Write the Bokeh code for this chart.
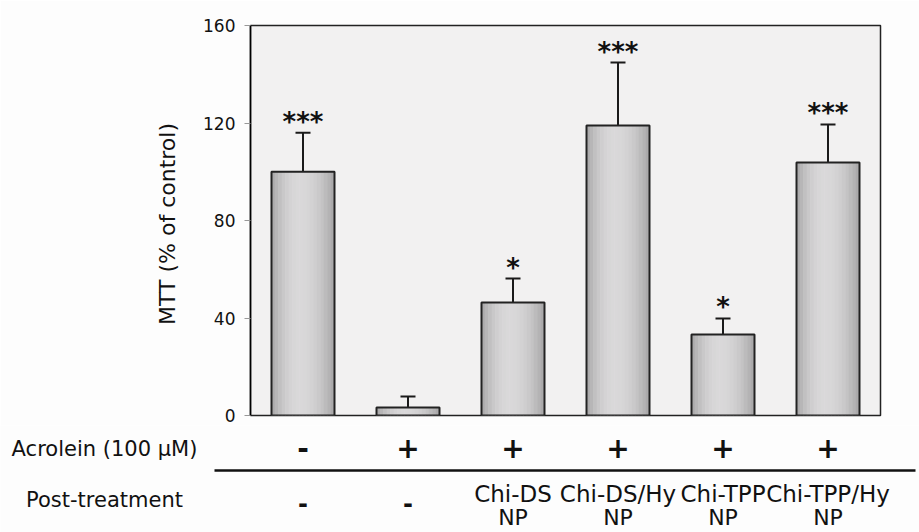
from bokeh.plotting import figure
from bokeh.models import ColumnDataSource, Range1d, FixedTicker, Whisker, TeeHead
from bokeh.transform import dodge
from bokeh.core.properties import value
from bokeh.embed import file_html
from bokeh.resources import INLINE

# ---- data ----
categories = ["Control", "Acrolein", "Chi-DS NP", "Chi-DS/Hy NP", "Chi-TPP NP", "Chi-TPP/Hy NP"]
mtt = [100, 3.3, 46.4, 119, 33.2, 103.8]
mtt_err = [16, 4.5, 9.8, 25.8, 6.6, 15.6]
stars = ["***", "", "*", "***", "*", "***"]
acrolein = ["-", "+", "+", "+", "+", "+"]
post_sign = ["-", "-", "", "", "", ""]
post_line1 = ["", "", "Chi-DS", "Chi-DS/Hy", "Chi-TPP", "Chi-TPP/Hy"]
post_line2 = ["", "", "NP", "NP", "NP", "NP"]
row_titles = ["Acrolein (100 µM)", "Post-treatment"]
y_ticks = [0, 40, 80, 120, 160]

xs = list(range(1, len(categories) + 1))
src = ColumnDataSource(dict(
    x=xs, top=mtt, upper=[m + e for m, e in zip(mtt, mtt_err)], stars=stars,
    acro=acrolein, psign=post_sign, p1=post_line1, p2=post_line2,
))

FONT = "DejaVu Sans"
W, H = 919, 532
L, R, T, B = 250, 880, 25, 415      # chart frame edges in page pixels
H1 = 425                            # height of the chart figure
BAR_W = 0.6
PX_X = (R - L) / 6.0                # px per category

# ---- main chart ----
p = figure(width=W, height=H1, output_backend="svg", toolbar_location=None,
           x_range=Range1d(0.5, 6.5), y_range=Range1d(0, 160),
           min_border_left=L, min_border_right=W - R, min_border_top=T, min_border_bottom=H1 - B)
p.xaxis.visible = False
p.grid.visible = False
p.background_fill_color = "#f2f1f1"
p.border_fill_color = "#fdfdfd"
p.outline_line_color = "#222222"
p.outline_line_width = 1.5

ya = p.yaxis[0]
ya.ticker = FixedTicker(ticks=y_ticks)
ya.minor_tick_line_color = None
ya.major_tick_in = 0
ya.major_tick_out = 6
ya.major_tick_line_color = "#999999"
ya.axis_line_color = "black"
ya.axis_line_width = 1.5
ya.major_label_text_font = FONT
ya.major_label_text_font_size = "17px"
ya.major_label_text_color = "#111111"
ya.major_label_standoff = 9
ya.axis_label = "MTT  (% of control)"
ya.axis_label_text_font = FONT
ya.axis_label_text_font_size = "22px"
ya.axis_label_text_font_style = "normal"
ya.axis_label_text_color = "#111111"
ya.axis_label_standoff = 20

# gradient-like bar fill with vertical strips
N = 18
for i in range(N):
    t = (i + 0.5) / N
    u = (0.45 - t) / 0.45 if t < 0.45 else (t - 0.45) / 0.55
    b = int(218 - 52 * u * u)
    col = "#%02x%02x%02x" % (b, b - 1, b)
    off = -BAR_W / 2 + (i + 0.5) * BAR_W / N
    p.vbar(x=dodge("x", off, range=p.x_range), top="top", bottom=0,
           width=BAR_W / N * 1.15, source=src, fill_color=col, line_color=None)

p.vbar(x="x", top="top", bottom=0, width=BAR_W, source=src,
       fill_color=None, line_color="#222222", line_width=2)

wh = Whisker(base="x", lower="top", upper="upper", source=src,
             upper_head=TeeHead(size=15, line_width=2, line_color="#1a1a1a"),
             lower_head=None, line_width=2, line_color="#1a1a1a")
p.add_layout(wh)

p.text(x="x", y="upper", text="stars", source=src, text_align="center",
       text_baseline="alphabetic", y_offset=-11, text_font=value(FONT),
       text_font_size="26px", text_font_style="bold", text_color="#111111")

# ---- lower table: second figure, same horizontal scale, page-pixel rows ----
x_start = 0.5 - L / PX_X
q = figure(width=W, height=H - H1, output_backend="svg", toolbar_location=None,
           x_range=Range1d(x_start, x_start + W / PX_X), y_range=Range1d(H, H1),
           min_border=0)
q.axis.visible = False
q.grid.visible = False
q.outline_line_color = None
q.background_fill_color = "#fdfdfd"
q.border_fill_color = "#fdfdfd"

row_x = 0.5 + (104 - L) / PX_X
q.text(x=[row_x, row_x], y=[448, 499], text=row_titles, text_align="center",
       text_baseline="middle", text_font=value(FONT), text_font_size="21px",
       text_color="#111111")


def row(col, py, size, style="normal"):
    q.text(x="x", y=py, text=col, source=src, text_align="center", text_baseline="middle",
           text_font=value(FONT), text_font_size=size, text_font_style=style,
           text_color="#111111")


row("acro", 447, "28px", "bold")
row("psign", 502, "24px", "bold")
row("p1", 493, "23px")
row("p2", 517, "22px")

q.segment(x0=[0.5 + (214 - L) / PX_X], y0=[470], x1=[0.5 + (915 - L) / PX_X], y1=[470],
          line_color="#111111", line_width=2.5)

open("out.html", "w").write(file_html([p, q], INLINE))
